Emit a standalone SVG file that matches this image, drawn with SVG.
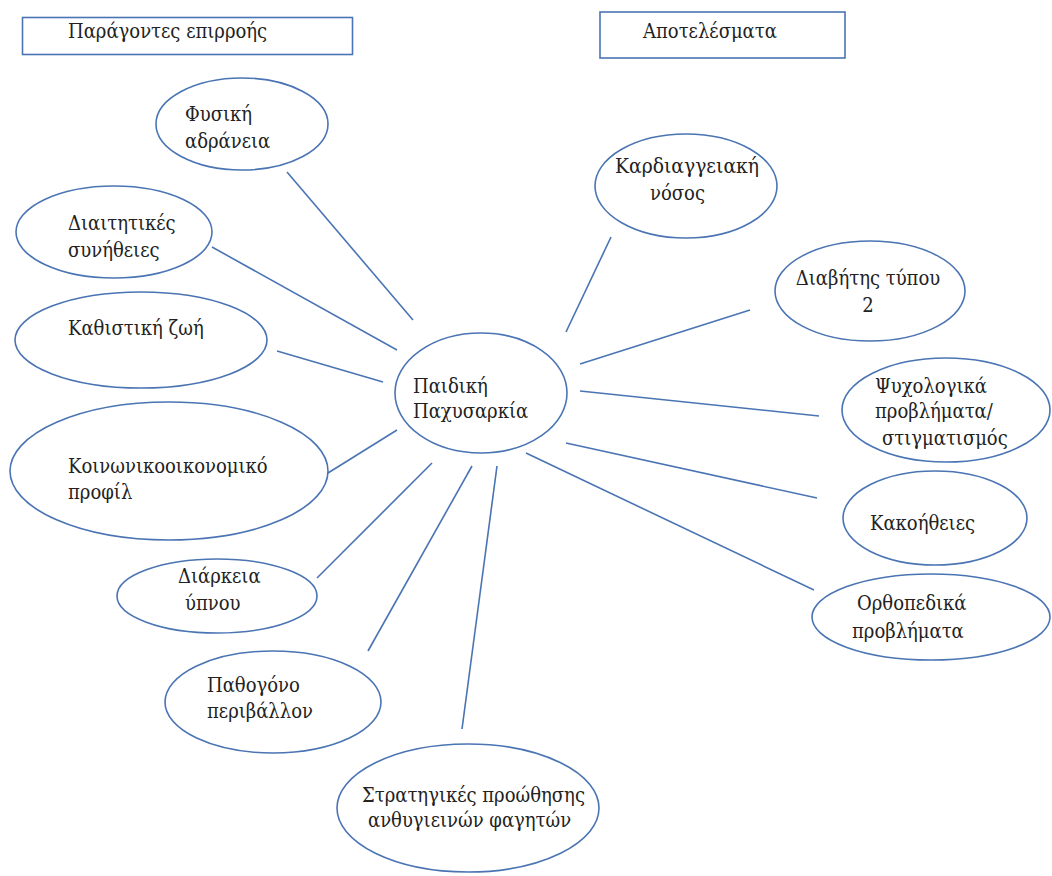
<svg xmlns="http://www.w3.org/2000/svg" width="1052" height="876" viewBox="0 0 1052 876">
<style>
.n{fill:#fff;stroke:#4a74b3;stroke-width:1.6}
.c line{stroke:#4a74b3;stroke-width:1.6}
text{font-family:'DejaVu Serif Condensed','DejaVu Serif',serif;font-stretch:condensed;font-size:20px;fill:#222}
</style>
<rect width="1052" height="876" fill="#fff"/>
<g class="c" id="connectors">
<line x1="287" y1="172" x2="413" y2="320"/>
<line x1="212" y1="247" x2="397" y2="350"/>
<line x1="277" y1="351" x2="383" y2="382"/>
<line x1="328" y1="473" x2="397" y2="430"/>
<line x1="317" y1="578" x2="432" y2="463"/>
<line x1="368" y1="651" x2="472" y2="466"/>
<line x1="462" y1="729" x2="497" y2="466"/>
<line x1="566" y1="332" x2="611" y2="237"/>
<line x1="580" y1="364" x2="750" y2="310"/>
<line x1="580" y1="391" x2="819" y2="416"/>
<line x1="566" y1="443" x2="817" y2="498"/>
<line x1="526" y1="453" x2="814" y2="590"/>
</g>
<g id="h1"><rect class="n" x="22.5" y="17.5" width="330" height="37"/><text x="68" y="38">Παράγοντες επιρροής</text></g>
<g id="h2"><rect class="n" x="600" y="12" width="245" height="46"/><text x="643" y="38">Αποτελέσματα</text></g>
<g id="center"><ellipse class="n" cx="481" cy="393" rx="86" ry="60"/><text x="413" y="393">Παιδική</text><text x="413" y="418">Παχυσαρκία</text></g>
<g id="n1"><ellipse class="n" cx="242" cy="124" rx="86" ry="46"/><text x="185" y="121">Φυσική</text><text x="185" y="148">αδράνεια</text></g>
<g id="n2"><ellipse class="n" cx="114" cy="232" rx="98" ry="46"/><text x="68" y="230">Διαιτητικές</text><text x="68" y="257">συνήθειες</text></g>
<g id="n3"><ellipse class="n" cx="141" cy="340" rx="126" ry="48"/><text x="68" y="335">Καθιστική ζωή</text></g>
<g id="n4"><ellipse class="n" cx="169" cy="471" rx="159" ry="69"/><text x="68" y="473">Κοινωνικοοικονομικό</text><text x="68" y="499">προφίλ</text></g>
<g id="n5"><ellipse class="n" cx="217" cy="596" rx="100" ry="37"/><text x="178" y="583">Διάρκεια</text><text x="185" y="610">ύπνου</text></g>
<g id="n6"><ellipse class="n" cx="273" cy="702" rx="108" ry="51"/><text x="207" y="692">Παθογόνο</text><text x="207" y="718">περιβάλλον</text></g>
<g id="n7"><ellipse class="n" cx="468" cy="808" rx="131" ry="64"/><text x="362" y="802">Στρατηγικές προώθησης</text><text x="368" y="827">ανθυγιεινών φαγητών</text></g>
<g id="r1"><ellipse class="n" cx="686" cy="186" rx="91" ry="52"/><text x="615" y="173" textLength="144" lengthAdjust="spacingAndGlyphs">Καρδιαγγειακή</text><text x="650" y="200">νόσος</text></g>
<g id="r2"><ellipse class="n" cx="870" cy="291" rx="95" ry="50"/><text x="868" y="285" text-anchor="middle">Διαβήτης τύπου</text><text x="868" y="312" text-anchor="middle">2</text></g>
<g id="r3"><ellipse class="n" cx="946" cy="410" rx="104" ry="52"/><text x="875" y="393">Ψυχολογικά</text><text x="875" y="418">προβλήματα/</text><text x="882" y="445">στιγματισμός</text></g>
<g id="r4"><ellipse class="n" cx="935" cy="518" rx="92" ry="47"/><text x="870" y="530">Κακοήθειες</text></g>
<g id="r5"><ellipse class="n" cx="931" cy="617" rx="119" ry="43"/><text x="857" y="610">Ορθοπεδικά</text><text x="852" y="638">προβλήματα</text></g>
</svg>
